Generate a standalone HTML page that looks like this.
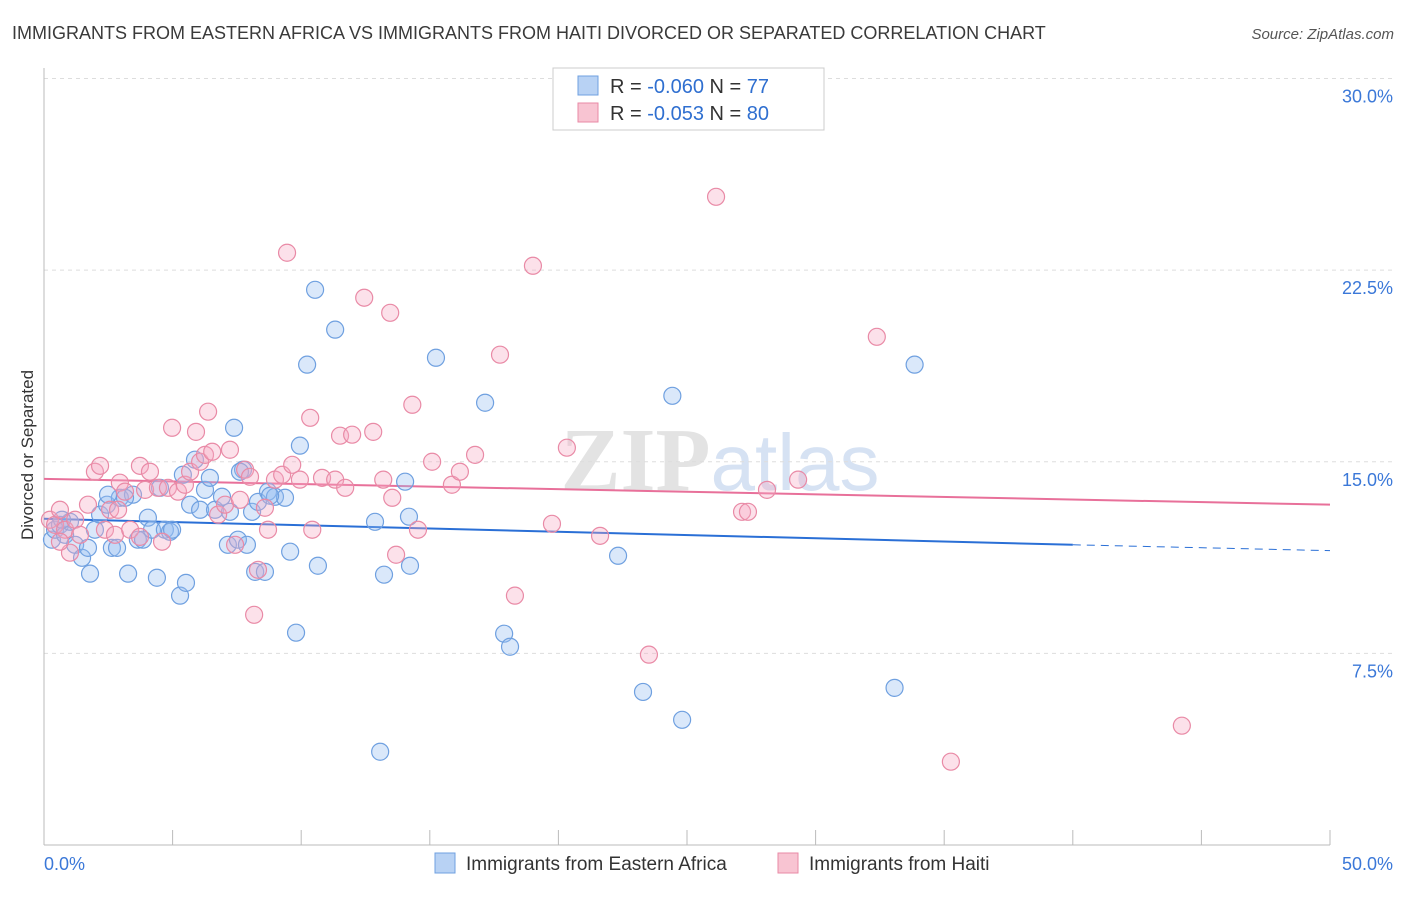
<!DOCTYPE html>
<html><head><meta charset="utf-8"><style>
body{margin:0;background:#fff;font-family:"Liberation Sans",sans-serif;}
svg text{font-family:"Liberation Sans",sans-serif;}
</style></head><body>
<svg id="chart" width="1406" height="892" xmlns="http://www.w3.org/2000/svg">
<text x="12" y="39" font-size="18" fill="#3a3a3a">IMMIGRANTS FROM EASTERN AFRICA VS IMMIGRANTS FROM HAITI DIVORCED OR SEPARATED CORRELATION CHART</text>
<text x="1394" y="39" font-size="15" fill="#555" text-anchor="end" font-style="italic">Source: ZipAtlas.com</text>
<text transform="translate(33,455) rotate(-90)" font-size="17" fill="#333" text-anchor="middle">Divorced or Separated</text>
<text x="720" y="490" font-size="90" text-anchor="middle" fill="#d8d8d8" opacity="0.7"><tspan font-family="Liberation Serif" font-weight="bold">ZIP</tspan><tspan fill="#c6d6ee" font-size="80">atlas</tspan></text>
<g id="grid"></g><g id="axes"></g><g id="trends"></g><g id="points"></g>
<g>
<rect x="553" y="68" width="271" height="62" fill="#fff" stroke="#ccc"/>
<rect x="578" y="76" width="20" height="19" fill="#b8d2f4" stroke="#6fa0e0"/>
<rect x="578" y="103" width="20" height="19" fill="#f8c4d2" stroke="#e98aa6"/>
<text x="610" y="93" font-size="20" fill="#333">R = <tspan fill="#2f6fd0">-0.060</tspan>   N = <tspan fill="#2f6fd0">77</tspan></text>
<text x="610" y="120" font-size="20" fill="#333">R = <tspan fill="#2f6fd0">-0.053</tspan>   N = <tspan fill="#2f6fd0">80</tspan></text>
</g>
<g>
<rect x="435" y="853" width="20" height="20" fill="#b8d2f4" stroke="#6fa0e0"/>
<text x="466" y="870" font-size="19" fill="#333">Immigrants from Eastern Africa</text>
<rect x="778" y="853" width="20" height="20" fill="#f8c4d2" stroke="#e98aa6"/>
<text x="809" y="870" font-size="19" fill="#333">Immigrants from Haiti</text>
</g>
</svg>
<script>
const blueX=[0.31,0.43,0.62,0.82,1.01,1.21,1.48,1.71,1.79,1.98,2.18,2.45,2.64,2.84,2.95,3.27,3.46,3.65,3.85,4.04,4.20,4.39,4.51,4.70,4.90,4.98,5.29,5.40,5.52,5.68,5.87,6.07,6.26,6.45,6.65,6.92,7.15,7.23,7.39,7.54,7.74,7.89,8.09,8.21,8.32,8.59,8.71,8.98,9.37,9.57,9.80,9.95,10.23,10.54,10.65,11.32,12.87,13.22,14.04,14.19,14.23,15.24,17.15,17.89,18.12,22.32,23.29,24.43,24.81,33.07,33.85,13.07,2.49,3.15,7.62,8.79,0.70];
const blueY=[11.95,12.34,12.53,12.14,12.65,11.75,11.24,11.63,10.62,12.34,12.93,13.32,11.63,11.63,13.59,10.62,13.71,11.95,11.95,12.81,12.34,10.46,13.98,12.34,12.26,12.34,9.76,14.49,10.26,13.32,15.08,13.12,13.90,14.37,13.12,13.63,11.75,13.04,16.33,11.95,14.69,11.75,13.04,10.69,13.43,10.69,13.83,13.63,13.59,11.48,8.31,15.63,18.80,21.73,10.93,20.17,12.65,10.58,14.22,12.85,10.93,19.07,17.31,8.27,7.76,11.32,5.99,17.58,4.90,6.15,18.80,3.65,13.71,13.59,14.61,13.67,12.73];
const pinkX=[0.23,0.43,0.62,0.82,1.01,1.21,1.40,1.71,1.98,2.18,2.37,2.57,2.76,2.95,3.15,3.35,3.73,3.93,4.12,4.43,4.59,4.82,4.98,5.21,5.48,5.68,5.91,6.07,6.26,6.38,6.54,6.77,7.04,7.23,7.43,7.62,7.82,8.01,8.17,8.32,8.59,8.71,8.98,9.26,9.45,9.65,9.95,10.35,10.43,10.81,11.32,11.51,11.71,11.98,12.45,12.80,13.19,13.46,13.54,13.69,14.32,14.54,15.09,15.86,16.17,16.76,17.73,18.31,19.01,19.75,20.33,21.62,23.52,27.14,27.37,26.13,28.11,29.32,32.38,44.24,35.26,0.62,2.88,3.73];
const pinkY=[12.73,12.53,13.12,12.34,11.44,12.73,12.14,13.32,14.61,14.84,12.34,13.12,12.14,14.18,13.83,12.34,14.84,13.90,14.61,13.98,11.87,13.98,16.33,13.83,14.10,14.61,16.17,15.00,15.27,16.96,15.39,12.93,13.32,15.47,11.75,13.51,14.69,14.41,9.01,10.77,13.20,12.34,14.30,14.49,23.18,14.88,14.30,16.72,12.34,14.37,14.30,16.02,13.98,16.06,21.42,16.17,14.30,20.83,13.59,11.36,17.23,12.34,15.00,14.10,14.61,15.27,19.19,9.76,22.67,12.57,15.55,12.10,7.45,13.04,13.04,25.37,13.90,14.30,19.89,4.67,3.26,11.87,13.12,12.06];
const yTicks=[7.5,15.0,22.5,30.0];
const yTickLabels=["7.5%","15.0%","22.5%","30.0%"];
const xTicks=[0,5,10,15,20,25,30,35,40,45,50];
const blueTrend=[12.77,11.75,11.52]; // at x=0,40,50
const pinkTrend=[14.33,13.32]; // at x=0,50
const NS="http://www.w3.org/2000/svg";
const X=v=>44+v*(1286/50);
const Y=v=>845-v*25.55;
function mk(parent,tag,attrs){const e=document.createElementNS(NS,tag);for(const k in attrs)e.setAttribute(k,attrs[k]);document.getElementById(parent).appendChild(e);return e;}
yTicks.forEach((t,i)=>{
 const g=mk('grid','line',{x1:44,x2:1394,y1:Y(t),y2:Y(t),stroke:'#ddd','stroke-dasharray':'4,4'});
 
 
 const l=mk('axes','text',{x:1393,y:Y(t)+24,'font-size':18,fill:'#3b78d8','text-anchor':'end'});
 l.textContent=yTickLabels[i];
 
 
});
const a=mk('axes','line',{x1:44,x2:44,y1:68,y2:845,stroke:'#bbb'});


const b=mk('axes','line',{x1:44,x2:1330,y1:845,y2:845,stroke:'#bbb'});


xTicks.forEach(t=>{
 const tk=mk('axes','line',{x1:X(t),x2:X(t),y1:830,y2:845,stroke:'#bbb'});
 
 
});
const xl0=mk('axes','text',{x:44,y:870,'font-size':18,fill:'#3b78d8'});xl0.textContent='0.0%';


const xl1=mk('axes','text',{x:1393,y:870,'font-size':18,fill:'#3b78d8','text-anchor':'end'});xl1.textContent='50.0%';


const bt=mk('trends','line',{x1:X(0),y1:Y(blueTrend[0]),x2:X(40),y2:Y(blueTrend[1]),stroke:'#2a6fd6','stroke-width':2});


const bd=mk('trends','line',{x1:X(40),y1:Y(blueTrend[1]),x2:X(50),y2:Y(blueTrend[2]),stroke:'#2a6fd6','stroke-width':1,'stroke-dasharray':'8,6'});


const pt=mk('trends','line',{x1:X(0),y1:Y(pinkTrend[0]),x2:X(50),y2:Y(pinkTrend[1]),stroke:'#e8709a','stroke-width':2});


blueX.forEach((v,i)=>{
 const c=mk('points','circle',{cx:X(v),cy:Y(blueY[i]),r:8.5,fill:'rgba(150,190,240,0.35)',stroke:'#6fa0e0','stroke-width':1.2});
 
 
});
pinkX.forEach((v,i)=>{
 const c=mk('points','circle',{cx:X(v),cy:Y(pinkY[i]),r:8.5,fill:'rgba(245,170,195,0.35)',stroke:'#e98aa6','stroke-width':1.2});
 
 
});
</script>
</body></html>
